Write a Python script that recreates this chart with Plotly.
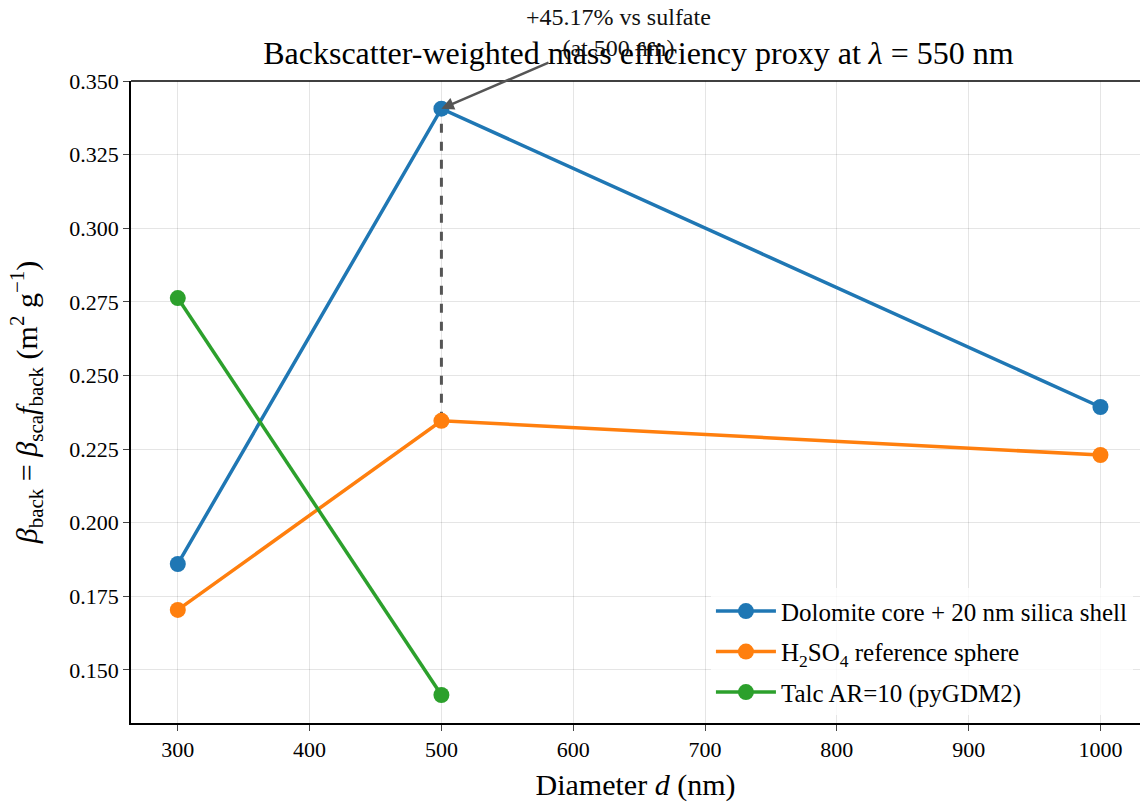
import plotly.graph_objects as go

diam = [300, 500, 1000]
dolomite = [0.1860, 0.3406, 0.2393]
sulfate = [0.1704, 0.23462, 0.2230]
talc_d = [300, 500]
talc = [0.2763, 0.1415]
names = ["Dolomite core + 20 nm silica shell", "H<sub>2</sub>SO<sub>4</sub> reference sphere", "Talc AR=10 (pyGDM2)"]
colors = ["#1f77b4", "#ff7f0e", "#2ca02c"]
xticks = [300, 400, 500, 600, 700, 800, 900, 1000]
yticks = [0.150, 0.175, 0.200, 0.225, 0.250, 0.275, 0.300, 0.325, 0.350]

FONT = "Liberation Serif, Times New Roman, serif"

fig = go.Figure()
# dashed connector at 500 nm
fig.add_trace(go.Scatter(x=[diam[1], diam[1]], y=[sulfate[1], dolomite[1]], mode="lines",
                         line=dict(color="#555555", width=3, dash="dash"), showlegend=False, hoverinfo="skip"))
for i, (xs, ys, n, c) in enumerate([(diam, dolomite, names[0], colors[0]), (diam, sulfate, names[1], colors[1]), (talc_d, talc, names[2], colors[2])]):
    fig.add_trace(go.Scatter(x=xs, y=ys, mode="lines+markers", name=n, legendgroup=f"g{i}",
                             line=dict(color=c, width=3.5), marker=dict(color=c, size=16)))

pct = (dolomite[1] / sulfate[1] - 1) * 100
fig.add_annotation(x=diam[1], y=dolomite[1], xref="x", yref="y",
                   text=f"+{pct:.2f}% vs sulfate<br>(at 500 nm)",
                   showarrow=True, arrowhead=2, arrowsize=1, arrowwidth=2.5, arrowcolor="#555555",
                   ax=177, ay=-76, axref="pixel", ayref="pixel",
                   font=dict(family=FONT, size=24, color="#111111"), align="center")

fig.update_layout(
    width=1140, height=802,
    paper_bgcolor="white", plot_bgcolor="white",
    margin=dict(l=131, r=0, t=81, b=79),
    font=dict(family=FONT, size=22, color="black"),
    title=dict(text="Backscatter-weighted mass efficiency proxy at <i>λ</i> = 550 nm",
               x=0.56, xanchor="center", y=0.934, yanchor="middle", font=dict(size=32, family=FONT)),
    legend=dict(x=0.993, xanchor="right", y=0.012, yanchor="bottom", itemwidth=60,
                bgcolor="rgba(255,255,255,0.8)", font=dict(size=25, family=FONT), tracegroupgap=5),
    showlegend=True,
)
fig.update_xaxes(range=[264.5, 1030], tickvals=xticks, ticks="outside", ticklen=6, tickwidth=1.2,
                 showline=True, linecolor="black", linewidth=1.5, mirror=False, automargin=False,
                 showgrid=True, gridcolor="rgba(0,0,0,0.1)", gridwidth=1, zeroline=False,
                 title=dict(text="Diameter <i>d</i> (nm)", font=dict(size=30), standoff=15),
                 tickfont=dict(size=22))
fig.update_yaxes(range=[0.132, 0.350], tickvals=yticks, tickformat=".3f", ticks="outside", ticklen=6, tickwidth=1.2,
                 showline=True, linecolor="black", linewidth=1.5, mirror=False, automargin=False,
                 showgrid=True, gridcolor="rgba(0,0,0,0.1)", gridwidth=1, zeroline=False,
                 title=dict(text="<i>β</i><sub>back</sub> = <i>β</i><sub>sca</sub><i>f</i><sub>back</sub> (m<sup>2</sup> g<sup>−1</sup>)",
                            font=dict(size=30), standoff=23),
                 tickfont=dict(size=22))
# top spine
fig.add_shape(type="line", xref="paper", yref="paper", x0=0, x1=1, y0=1, y1=1,
              line=dict(color="black", width=1.5))

fig.write_html("out.html", config={"displayModeBar": False},
               post_script="document.body.style.margin='0';document.body.style.padding='0';")
